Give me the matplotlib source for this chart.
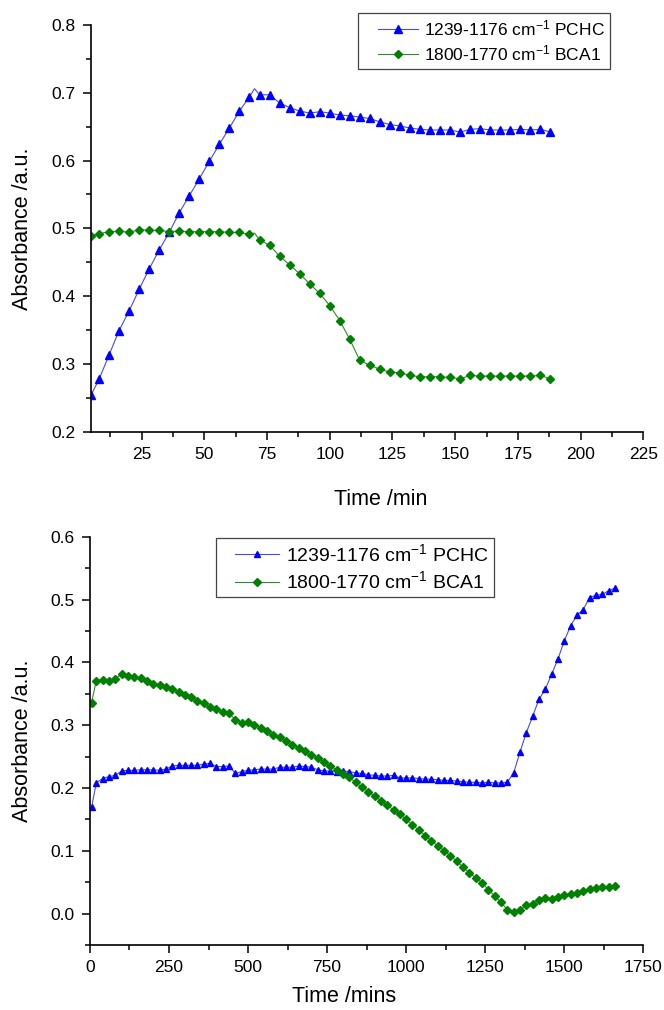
import matplotlib
matplotlib.use("Agg")
import matplotlib.pyplot as plt
from matplotlib.ticker import MultipleLocator
from matplotlib.legend_handler import HandlerLine2D

plt.rcParams['font.family'] = ['Liberation Sans', 'DejaVu Sans']
plt.rcParams['mathtext.fontset'] = 'custom'
plt.rcParams['mathtext.rm'] = 'Liberation Sans'
plt.rcParams['mathtext.it'] = 'Liberation Sans:italic'
plt.rcParams['mathtext.bf'] = 'Liberation Sans:bold'

# ---------------- data: top panel ----------------
top_time = [4.8, 8, 12, 16, 20, 24, 28, 32, 36, 40, 44, 48, 52, 56, 60, 64, 68,
            70,
            72, 76, 80, 84, 88, 92, 96, 100, 104, 108, 112, 116, 120, 124, 128,
            132, 136, 140, 144, 148, 152, 156, 160, 164, 168, 172, 176, 180,
            184, 188]
top_pchc = [0.254, 0.277, 0.313, 0.349, 0.378, 0.410, 0.440, 0.468, 0.494,
            0.523, 0.548, 0.573, 0.599, 0.624, 0.648, 0.673, 0.694,
            0.706,
            0.697, 0.697, 0.685, 0.678, 0.673, 0.670, 0.672, 0.670, 0.667,
            0.666, 0.664, 0.662, 0.657, 0.653, 0.651, 0.648, 0.646, 0.645,
            0.645, 0.645, 0.642, 0.646, 0.647, 0.645, 0.645, 0.645, 0.646,
            0.645, 0.646, 0.642]
top_bca1 = [0.489, 0.492, 0.495, 0.496, 0.494, 0.498, 0.497, 0.497, 0.495,
            0.496, 0.495, 0.495, 0.495, 0.495, 0.494, 0.494, 0.491,
            0.493,
            0.483, 0.475, 0.459, 0.446, 0.433, 0.418, 0.404, 0.386, 0.364,
            0.336, 0.305, 0.298, 0.292, 0.288, 0.287, 0.283, 0.281, 0.281,
            0.281, 0.280, 0.278, 0.283, 0.282, 0.282, 0.282, 0.282, 0.282,
            0.282, 0.283, 0.278]
top_unmarked = [17]  # index of the data point drawn without a symbol

# ---------------- data: bottom panel ----------------
bot_time = [5, 20, 40, 60, 80, 100, 120, 140, 160, 180, 200, 220, 240, 260,
            280, 300, 320, 340, 360, 380, 400, 420, 440, 460, 480, 500, 520,
            540, 560, 580, 600, 620, 640, 660, 680, 700, 720, 740, 760, 780,
            800, 820, 840, 860, 880, 900, 920, 940, 960, 980, 1000, 1020,
            1040, 1060, 1080, 1100, 1120, 1140, 1160, 1180, 1200, 1220, 1240,
            1260, 1280, 1300, 1320, 1340, 1360, 1380, 1400, 1420, 1440, 1460,
            1480, 1500, 1520, 1540, 1560, 1580, 1600, 1620, 1640, 1660]
bot_pchc = [0.169, 0.208, 0.215, 0.218, 0.220, 0.227, 0.228, 0.228, 0.229,
            0.229, 0.229, 0.228, 0.230, 0.235, 0.236, 0.236, 0.236, 0.236,
            0.238, 0.239, 0.234, 0.234, 0.235, 0.223, 0.226, 0.228, 0.229,
            0.230, 0.230, 0.230, 0.233, 0.233, 0.233, 0.235, 0.234, 0.233,
            0.229, 0.227, 0.227, 0.226, 0.227, 0.226, 0.224, 0.223, 0.221,
            0.220, 0.219, 0.219, 0.220, 0.216, 0.216, 0.216, 0.215, 0.214,
            0.214, 0.213, 0.212, 0.212, 0.211, 0.210, 0.209, 0.209, 0.208,
            0.209, 0.208, 0.208, 0.209, 0.224, 0.257, 0.288, 0.314, 0.341,
            0.357, 0.381, 0.405, 0.434, 0.458, 0.475, 0.484, 0.503, 0.507,
            0.508, 0.514, 0.518]
bot_bca1 = [0.336, 0.371, 0.372, 0.370, 0.374, 0.381, 0.379, 0.376, 0.375,
            0.370, 0.366, 0.364, 0.361, 0.357, 0.353, 0.348, 0.345, 0.339,
            0.335, 0.329, 0.325, 0.321, 0.319, 0.308, 0.304, 0.305, 0.301,
            0.296, 0.290, 0.285, 0.281, 0.274, 0.269, 0.264, 0.259, 0.253,
            0.248, 0.241, 0.235, 0.229, 0.222, 0.217, 0.209, 0.201, 0.194,
            0.187, 0.180, 0.173, 0.165, 0.158, 0.150, 0.141, 0.133, 0.124,
            0.116, 0.108, 0.100, 0.092, 0.083, 0.074, 0.065, 0.057, 0.049,
            0.038, 0.028, 0.018, 0.006, 0.002, 0.006, 0.013, 0.016, 0.021,
            0.024, 0.023, 0.026, 0.029, 0.031, 0.033, 0.036, 0.039, 0.041,
            0.042, 0.043, 0.044]

label_pchc = r'1239-1176 cm$^{-1}$ PCHC'
label_bca1 = r'1800-1770 cm$^{-1}$ BCA1'

BLUE_LINE = '#4a4ae6'
BLUE_MK = '#0000ff'
GREEN_LINE = '#2a8c2a'
GREEN_MK = '#008000'


class OffsetLineHandler(HandlerLine2D):
    """Legend line sample that starts a little inside the frame (Origin style)."""

    def __init__(self, frac=0.25, **kw):
        super().__init__(**kw)
        self.frac = frac

    def create_artists(self, legend, orig_handle, xdescent, ydescent, width,
                       height, fontsize, trans):
        off = width * self.frac
        return super().create_artists(legend, orig_handle, xdescent - off,
                                      ydescent, width - off, height, fontsize,
                                      trans)


fig = plt.figure(figsize=(6.64, 10.10), dpi=100)
ax1 = fig.add_axes([0.1370, 0.5726, 0.8318, 0.4027])
ax2 = fig.add_axes([0.1355, 0.0644, 0.8333, 0.4042])


def style_axis(ax):
    for s in ('top', 'right'):
        ax.spines[s].set_visible(False)
    for s in ('left', 'bottom'):
        ax.spines[s].set_linewidth(1.2)
    ax.tick_params(which='major', direction='out', length=6, width=1.1,
                   labelsize=12.5, pad=5)
    ax.tick_params(which='minor', direction='out', length=3.5, width=1.1)


marks_top = [i for i in range(len(top_time)) if i not in top_unmarked]

l1, = ax1.plot(top_time, top_pchc, '-', color=BLUE_LINE, lw=0.8, marker='^',
               markersize=5.5, markerfacecolor=BLUE_MK, markeredgecolor=BLUE_MK,
               markevery=marks_top, label=label_pchc)
l2, = ax1.plot(top_time, top_bca1, '-', color=GREEN_LINE, lw=0.8, marker='D',
               markersize=4.5, markerfacecolor=GREEN_MK,
               markeredgecolor=GREEN_MK, markevery=marks_top, label=label_bca1)
ax1.set_xlim(4.8, 225)
ax1.set_ylim(0.2, 0.8)
ax1.xaxis.set_minor_locator(MultipleLocator(12.5))
ax1.yaxis.set_major_locator(MultipleLocator(0.1))
ax1.yaxis.set_minor_locator(MultipleLocator(0.05))
ax1.set_xticks([25, 50, 75, 100, 125, 150, 175, 200, 225])
style_axis(ax1)
ax1.set_xlabel('Time /min', fontsize=15.5)
ax1.set_ylabel('Absorbance /a.u.', fontsize=15.5)
ax1.xaxis.set_label_coords(0.525, -0.14)
ax1.yaxis.set_label_coords(-0.105, 0.5)
leg1 = ax1.legend(loc='upper left', bbox_to_anchor=(0.4834, 1.029),
                  fontsize=12.5, numpoints=1, handlelength=3.15,
                  fancybox=False, framealpha=1, edgecolor='#444444',
                  borderpad=0.3, labelspacing=0.3, handletextpad=0.35,
                  borderaxespad=0,
                  handler_map={l1: OffsetLineHandler(0.27),
                               l2: OffsetLineHandler(0.27)})
leg1.get_frame().set_linewidth(0.9)

m1, = ax2.plot(bot_time, bot_pchc, '-', color=BLUE_LINE, lw=0.8, marker='^',
               markersize=5.0, markerfacecolor=BLUE_MK, markeredgecolor=BLUE_MK,
               label=label_pchc)
m2, = ax2.plot(bot_time, bot_bca1, '-', color=GREEN_LINE, lw=0.8, marker='D',
               markersize=4.2, markerfacecolor=GREEN_MK,
               markeredgecolor=GREEN_MK, label=label_bca1)
ax2.set_xlim(0, 1750)
ax2.set_ylim(-0.05, 0.6)
ax2.xaxis.set_major_locator(MultipleLocator(250))
ax2.xaxis.set_minor_locator(MultipleLocator(125))
ax2.set_yticks([0.0, 0.1, 0.2, 0.3, 0.4, 0.5, 0.6])
ax2.set_yticklabels(['0.0', '0.1', '0.2', '0.3', '0.4', '0.5', '0.6'])
ax2.yaxis.set_minor_locator(MultipleLocator(0.05))
style_axis(ax2)
ax2.set_xlabel('Time /mins', fontsize=15.5)
ax2.set_ylabel('Absorbance /a.u.', fontsize=15.5)
ax2.xaxis.set_label_coords(0.46, -0.1)
ax2.yaxis.set_label_coords(-0.103, 0.5)
leg2 = ax2.legend(loc='upper left', bbox_to_anchor=(0.2277, 0.9968),
                  fontsize=14, numpoints=1, handlelength=3.0,
                  fancybox=False, framealpha=1, edgecolor='#444444',
                  borderpad=0.25, labelspacing=0.3, handletextpad=0.35,
                  borderaxespad=0,
                  handler_map={m1: OffsetLineHandler(0.24),
                               m2: OffsetLineHandler(0.24)})
leg2.get_frame().set_linewidth(0.9)

fig.savefig('out.png', dpi=100)
